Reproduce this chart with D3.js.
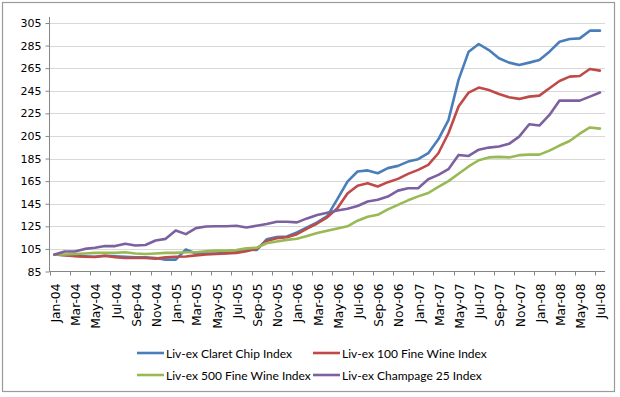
<!DOCTYPE html>
<html>
<head>
<meta charset="utf-8">
<script src="https://cdn.jsdelivr.net/npm/d3@7"></script>
<style>
  body { margin: 0; background: #fff; }
  text { font-family: "DejaVu Sans", Verdana, sans-serif; fill: #000; }
</style>
</head>
<body>
<script>
// monthly categories
var months = ["Jan-04","Feb-04","Mar-04","Apr-04","May-04","Jun-04","Jul-04","Aug-04","Sep-04","Oct-04","Nov-04","Dec-04",
  "Jan-05","Feb-05","Mar-05","Apr-05","May-05","Jun-05","Jul-05","Aug-05","Sep-05","Oct-05","Nov-05","Dec-05",
  "Jan-06","Feb-06","Mar-06","Apr-06","May-06","Jun-06","Jul-06","Aug-06","Sep-06","Oct-06","Nov-06","Dec-06",
  "Jan-07","Feb-07","Mar-07","Apr-07","May-07","Jun-07","Jul-07","Aug-07","Sep-07","Oct-07","Nov-07","Dec-07",
  "Jan-08","Feb-08","Mar-08","Apr-08","May-08","Jun-08","Jul-08"];

var claretChip = [100,99.5,99,98.5,98,99,98.5,98,97.5,97.5,97,95.5,
  95.5,104.5,101,101,101,101.5,102,104.5,104,113.5,115.5,116,
  119.5,124,128.5,134,149,164.5,173.5,174.5,172,176.5,178.5,182.3,
  184.4,189.7,202,219,254.6,279.6,286.4,281,273.8,269.9,267.8,269.9,
  272.2,279.6,288.4,290.8,291.4,298.2,298.2];

var fineWine100 = [100,99.4,98.5,98,97.8,99,97.6,97,97,97,96.4,97.5,
  98,98.3,99.3,100,100.5,101,101.5,103,105,112,114.5,115.3,
  118,123,127.5,133,141,154,161,163.2,160.2,164.1,167,171.4,
  175,179.4,189.7,207.4,231,243.4,247.8,245.7,242.2,239.3,237.8,239.8,
  240.7,247.2,253.7,257.5,258.1,264.3,262.8];

var fineWine500 = [100,100,100.5,101,101.5,101.5,101.5,102,101,100.5,101,101.5,
  101.5,102,102,103,103.5,103.5,104,105.5,106,110,111.5,113,
  114,116.5,119,121,123,125,130,133.5,135.2,140,144,148,
  151.5,154.5,160,165,171.5,178,183.5,186,186.5,186,188,188.5,
  188.5,192,196.5,200.5,207,212.5,211.5];

var champagne25 = [100,102.7,102.7,105,106,107.5,107.5,109.5,108,108.5,112.4,113.9,
  121.3,118.1,123.4,124.8,125,125,125.5,124,125.5,127,129,129,
  128.5,132,135,137,139,140.5,143,147,148.5,151.3,156.6,158.7,
  158.7,166.7,170.5,175.6,188.2,187.3,192.8,194.7,195.6,198,204.4,215.4,
  214.2,223.6,236.3,236.3,236.3,239.8,243.4];

var seriesNames = ["Liv-ex Claret  Chip Index","Liv-ex 100 Fine Wine Index","Liv-ex 500 Fine Wine Index","Liv-ex Champage 25 Index"];
var seriesValues = [claretChip, fineWine100, fineWine500, champagne25];
var colors = ["#4a7ebb","#be4b48","#98b954","#7d60a0"];
var yTicks = d3.range(85, 306, 20);

var width = 620, height = 397;
var plotLeft = 49.5, plotRight = 605, plotTop = 17, plotBottom = 271.5;

var svg = d3.select("body").append("svg").attr("width", width).attr("height", height);

// outer chart border
svg.append("rect")
  .attr("x", 2.5).attr("y", 2.5).attr("width", 612).attr("height", 389)
  .attr("fill", "#fff").attr("stroke", "#9a9a9a").attr("stroke-width", 1.2);

var x = d3.scalePoint().domain(months).range([plotLeft, plotRight]).padding(0.5);
var step = x.step();
var y = d3.scaleLinear().domain([85, 310.3]).range([plotBottom, plotTop]);

// gridlines
svg.append("g").selectAll("line")
  .data(yTicks.filter(function(d){ return d > 85; }))
  .enter().append("line")
    .attr("x1", plotLeft).attr("x2", plotRight)
    .attr("y1", function(d){ return Math.round(y(d)) + 0.5; })
    .attr("y2", function(d){ return Math.round(y(d)) + 0.5; })
    .attr("stroke", "#b0b0b0").attr("stroke-width", 1)
    .attr("stroke-dasharray", "1,1");

// y axis
var yAxis = svg.append("g")
  .attr("transform", "translate(" + plotLeft + ",0)")
  .call(d3.axisLeft(y).tickValues(yTicks).tickSize(4).tickPadding(4).tickFormat(d3.format("d")));
yAxis.selectAll("text").style("font-size", "11px").style("font-family", "DejaVu Sans");
yAxis.selectAll("line").attr("stroke", "#868686");
yAxis.select(".domain").attr("stroke", "#868686").attr("d", "M0," + plotTop + "V" + plotBottom);

// x axis
svg.append("line")
  .attr("x1", plotLeft).attr("x2", plotRight).attr("y1", plotBottom).attr("y2", plotBottom)
  .attr("stroke", "#868686");

svg.append("g").selectAll("line")
  .data(months.filter(function(d, i){ return i % 2 === 0; }))
  .enter().append("line")
    .attr("x1", function(d){ return Math.round(x(d) - step / 2) + 0.5; })
    .attr("x2", function(d){ return Math.round(x(d) - step / 2) + 0.5; })
    .attr("y1", plotBottom).attr("y2", plotBottom + 4)
    .attr("stroke", "#868686");

svg.append("g").selectAll("text")
  .data(months.filter(function(d, i){ return i % 2 === 0; }))
  .enter().append("text")
    .attr("transform", function(d){ return "translate(" + (x(d) + 5.5) + "," + (plotBottom + 12) + ") rotate(-90)"; })
    .attr("text-anchor", "end")
    .style("font-size", "12.3px")
    .text(function(d){ return d; });

// lines
var line = d3.line()
  .x(function(d, i){ return x(months[i]); })
  .y(function(d){ return y(d); });

svg.append("g").selectAll("path")
  .data(seriesValues)
  .enter().append("path")
    .attr("d", line)
    .attr("fill", "none")
    .attr("stroke", function(d, i){ return colors[i]; })
    .attr("stroke-width", 2.6)
    .attr("stroke-linejoin", "round")
    .attr("stroke-linecap", "round");

// legend
var legendPos = [[137, 353], [313, 353], [137, 375], [313, 375]];
var legend = svg.append("g").selectAll("g")
  .data(seriesNames)
  .enter().append("g")
    .attr("transform", function(d, i){ return "translate(" + legendPos[i][0] + "," + legendPos[i][1] + ")"; });

legend.append("line")
  .attr("x1", 0).attr("x2", 27).attr("y1", 0).attr("y2", 0)
  .attr("stroke", function(d, i){ return colors[i]; })
  .attr("stroke-width", 2.6);

legend.append("text")
  .attr("x", 29).attr("y", 4.5)
  .style("font-family", "Lato")
  .style("font-size", "12px")
  .text(function(d){ return d; });
</script>
</body>
</html>
